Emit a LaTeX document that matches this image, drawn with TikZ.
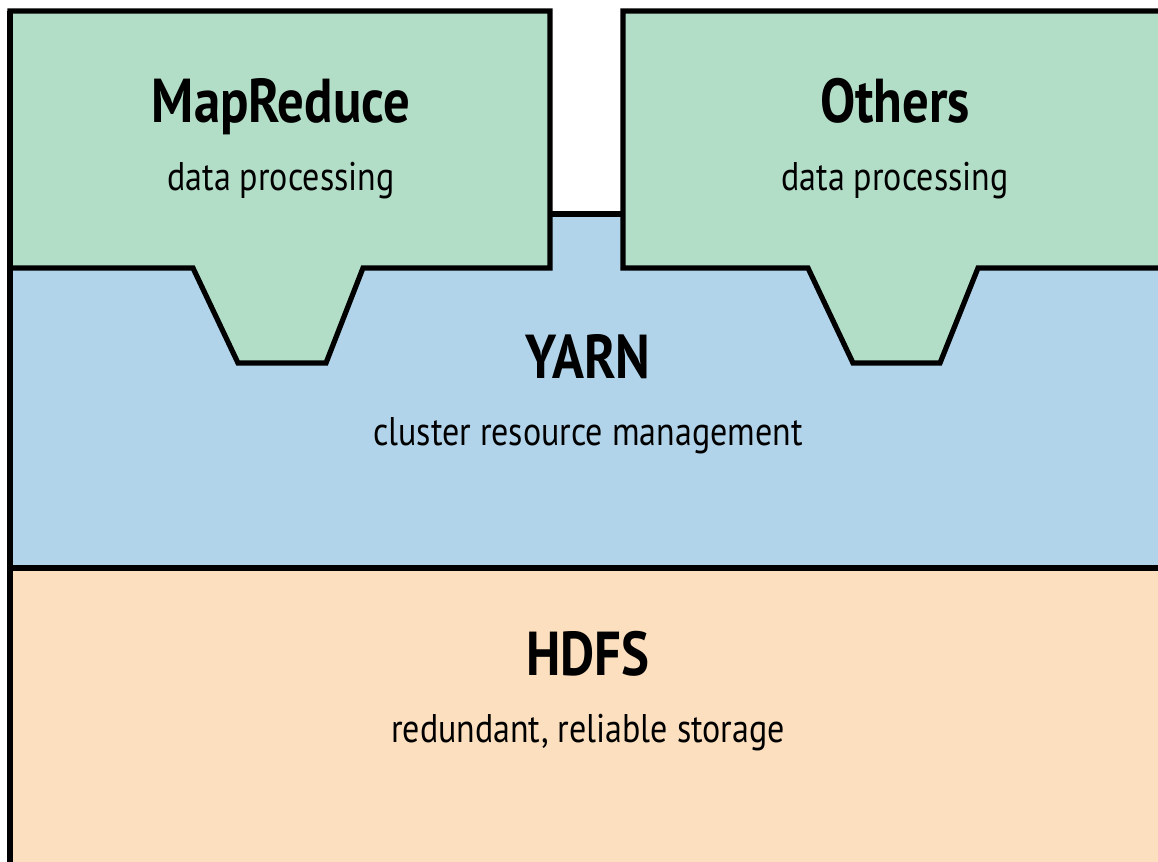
\documentclass[tikz,border=0pt]{standalone}
\usepackage{fontspec}
\setmainfont{PT Sans}[FakeStretch=0.85]
\usepackage{xcolor}
\usepackage{tikz}
\definecolor{mrgreen}{RGB}{178,222,200}
\definecolor{yarnblue}{RGB}{177,212,234}
\definecolor{hdfspeach}{RGB}{252,223,190}

\begin{document}
\begin{tikzpicture}[
  x=0.5pt, y=-0.5pt,
  edge/.style={line width=2.6pt, line join=miter},
  title/.style={anchor=base, inner sep=0pt, font=\fontsize{31}{34}\selectfont\bfseries},
  sub/.style={anchor=base, inner sep=0pt, font=\fontsize{20}{24}\selectfont}
]
\useasboundingbox (0,0) rectangle (1158,862);
\clip (0,0) rectangle (1158,862);
% layers
\fill[hdfspeach] (10,568) rectangle (1170,880);
\fill[yarnblue] (10,268) rectangle (1170,568);
\fill[yarnblue] (550,214) rectangle (623,268);
\filldraw[mrgreen, draw=black, edge] (10,11) -- (550,11) -- (550,268) -- (363,268)
  -- (326,363) -- (238,363) -- (193,268) -- (10,268) -- cycle;
\filldraw[mrgreen, draw=black, edge] (1170,11) -- (623,11) -- (623,268) -- (808,268)
  -- (853,363) -- (940,363) -- (978,268) -- (1170,268);
\fill[mrgreen] (1170,11) rectangle (1160,268);
\draw[edge] (550,214) -- (623,214);
\draw[edge] (10,11) -- (10,880);
\draw[edge] (10,568) -- (1170,568);
% labels
\node[title] (mr) at (281,122) {MapReduce};
\node[sub] (mrsub) at (281,190) {data processing};
\node[title] (oth) at (895,122) {Others};
\node[sub] (othsub) at (895,190) {data processing};
\node[title] (yarn) at (588,378) {YARN};
\node[sub] (yarnsub) at (588,445) {cluster resource management};
\node[title] (hdfs) at (588,675) {HDFS};
\node[sub] (hdfssub) at (588,742) {redundant, reliable storage};
\end{tikzpicture}
\end{document}
